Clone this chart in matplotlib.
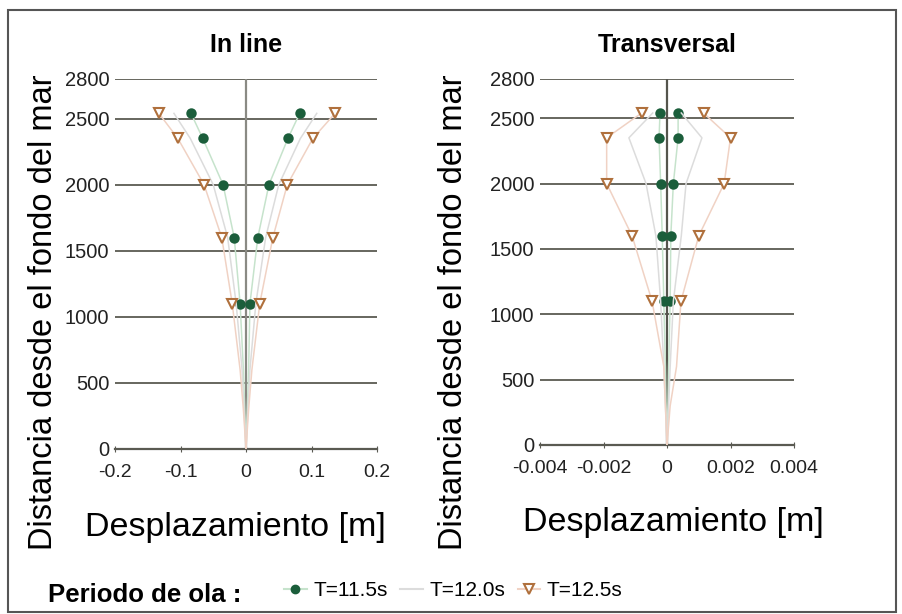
import matplotlib.pyplot as plt
from matplotlib.patches import Rectangle
from matplotlib.lines import Line2D

plt.rcParams['font.family'] = ['Liberation Sans', 'DejaVu Sans']

profundidad = [0, 300, 600, 1100, 1600, 2000, 2350, 2540]
yticks = [0, 500, 1000, 1500, 2000, 2500, 2800]
periodos = ["T=11.5s", "T=12.0s", "T=12.5s"]

# in line [m]
inline_neg = [
    [0, -0.002, -0.004, -0.009, -0.018, -0.035, -0.066, -0.084],
    [0, -0.003, -0.006, -0.015, -0.028, -0.050, -0.085, -0.110],
    [0, -0.004, -0.009, -0.021, -0.037, -0.064, -0.104, -0.133],
]
inline_pos = [
    [0, 0.002, 0.004, 0.006, 0.018, 0.035, 0.064, 0.082],
    [0, 0.003, 0.006, 0.015, 0.030, 0.050, 0.083, 0.108],
    [0, 0.004, 0.009, 0.021, 0.041, 0.063, 0.102, 0.136],
]

# transversal [m]
trans_neg = [
    [0, -0.00003, -0.00005, -0.0001, -0.00015, -0.0002, -0.00025, -0.00022],
    [0, -0.00005, -0.0001, -0.0002, -0.00035, -0.00066, -0.0012, -0.00045],
    [0, -0.00005, -0.0001, -0.00047, -0.0011, -0.0019, -0.0019, -0.0008],
]
trans_pos = [
    [0, 0.00003, 0.00005, 0.0001, 0.00012, 0.0002, 0.00035, 0.00035],
    [0, 0.00005, 0.0001, 0.0002, 0.00045, 0.0006, 0.0011, 0.00045],
    [0, 0.0001, 0.0003, 0.00044, 0.001, 0.0018, 0.002, 0.00115],
]

line_colors = ["#c6e3cc", "#dcdcdc", "#f0d2c4"]
markers = ["o", None, "v"]
mk_face = ["#1b5e3b", "none", "white"]
mk_edge = ["#1b5e3b", "none", "#b0703c"]
mk_size = [6, 0, 6.5]

fig = plt.figure(figsize=(9.02, 6.14), dpi=100)
ax1 = fig.add_axes([115/902, 1-449/614, 262/902, 370/614])
ax2 = fig.add_axes([540/902, 1-445/614, 254/902, 366/614])


def dibujar(ax, neg, pos, xlim, xticks, xlabels, titulo, eje_color):
    for i in range(3):
        for serie in (neg[i], pos[i]):
            ax.plot(serie, profundidad, color=line_colors[i], lw=1.1,
                    marker=markers[i], markevery=slice(3, None),
                    markersize=mk_size[i], markerfacecolor=mk_face[i],
                    markeredgecolor=mk_edge[i], markeredgewidth=1.5, zorder=3)
    ax.axvline(0, color=eje_color, lw=1.6, zorder=2)
    ax.set_xlim(xlim)
    ax.set_ylim(0, 2800)
    ax.set_xticks(xticks)
    ax.set_xticklabels(xlabels)
    ax.set_yticks(yticks)
    ax.grid(axis="y", color="#5a5a52", lw=1.3)
    ax.set_axisbelow(True)
    for s in ["top", "right", "left"]:
        ax.spines[s].set_visible(False)
    ax.spines["bottom"].set_color("#5a5a52")
    ax.spines["bottom"].set_linewidth(1.6)
    ax.tick_params(axis="y", length=0, labelsize=14.5, labelcolor="#222222", pad=4)
    ax.tick_params(axis="x", direction="inout", length=5, color="#5a5a52",
                   labelsize=14, labelcolor="#222222", pad=8)
    ax.text(0.5, 1.092, titulo, transform=ax.transAxes, ha="center", va="center",
            fontsize=18, fontweight="bold")
    ax.set_xlabel("Desplazamiento [m]", fontsize=24.5)
    ax.set_ylabel("Distancia desde el fondo del mar", fontsize=23.5)
    ax.xaxis.label.set_va("center")
    ax.yaxis.label.set_va("center")


dibujar(ax1, inline_neg, inline_pos, (-0.2, 0.2),
        [-0.2, -0.1, 0, 0.1, 0.2], ["-0.2", "-0.1", "0", "0.1", "0.2"],
        "In line", "#8a8a84")
dibujar(ax2, trans_neg, trans_pos, (-0.004, 0.004),
        [-0.004, -0.002, 0, 0.002, 0.004],
        ["-0.004", "-0.002", "0", "0.002", "0.004"], "Transversal", "#55554d")

ax1.xaxis.set_label_coords(0.458, -0.211)
ax1.yaxis.set_label_coords(-0.271, 0.37)
ax2.xaxis.set_label_coords(0.524, -0.213)
ax2.yaxis.set_label_coords(-0.339, 0.363)

fig.text(48/902, 1-595/614, "Periodo de ola :", fontsize=18.5, fontweight="bold",
         ha="left", va="center")
handles = [
    Line2D([], [], color=line_colors[0], marker="o", markersize=6,
           markerfacecolor=mk_face[0], markeredgecolor=mk_edge[0]),
    Line2D([], [], color=line_colors[1], lw=1.5),
    Line2D([], [], color=line_colors[2], marker="v", markersize=6.5,
           markerfacecolor=mk_face[2], markeredgecolor=mk_edge[2], markeredgewidth=1.5),
]
fig.legend(handles, periodos, ncol=3, loc="center left",
           bbox_to_anchor=(284/902, 1-591/614), frameon=False, fontsize=15,
           handlelength=1.1, handletextpad=0.3, columnspacing=0.6,
           borderaxespad=0, borderpad=0)

fig.patches.append(Rectangle((8/902, 2/614), 888/902, 602/614, transform=fig.transFigure,
                             fill=False, edgecolor="#555555", lw=1.5))

fig.savefig("out.png", dpi=100)
